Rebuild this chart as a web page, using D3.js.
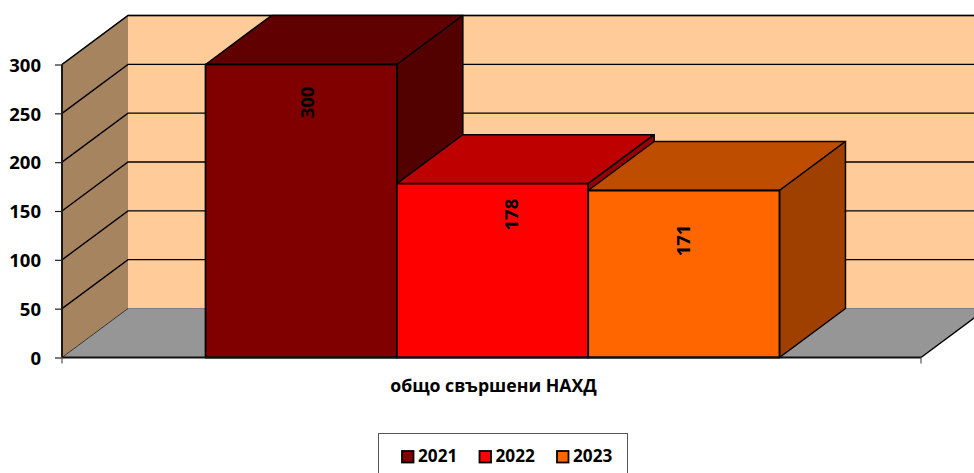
<!DOCTYPE html>
<html><head><meta charset="utf-8">
<script src="https://cdn.jsdelivr.net/npm/d3@7/dist/d3.min.js"></script>
<style>html,body{margin:0;padding:0;background:#fff;overflow:hidden}svg{display:block}
text{font-family:"Open Sans",sans-serif;font-weight:700;fill:#000}</style>
</head><body><svg id="c" width="974" height="473"></svg>
<script>
const category = ["общо свършени НАХД"];
const years = ["2021","2022","2023"];
const values = [300,178,171];
const yTicks = [0,50,100,150,200,250,300];
const frontColors = ["#800000","#ff0000","#ff6600"];
const topColors = ["#600000","#bf0000","#bf4d00"];
const sideColors = ["#530000","#990000","#a04000"];

const W=974,H=473;
const svg=d3.select("#c");
const x0=62,x1=921,yB=357.5,yT=64.5,dx=66,dy=-49;
const y=d3.scaleLinear().domain([0,300]).range([yB,yT]);
const xCat=d3.scaleBand().domain(category).range([x0,x1]);
const xBar=d3.scaleBand().domain(years).range([x0+1,x1+1]).paddingInner(0).paddingOuter(0.745);
const line=d3.line();
const poly=(pts,fill,stroke,sw)=>svg.append("path").attr("d",line(pts)+"Z").attr("fill",fill).attr("stroke",stroke||"none").attr("stroke-width",sw||0).attr("stroke-linejoin","round");

// walls and floor
poly([[x0+dx,yT+dy],[W+2,yT+dy],[W+2,yB+dy],[x0+dx,yB+dy]],"#ffcc99");
svg.append("line").attr("x1",x0+dx).attr("x2",W).attr("y1",yT+dy).attr("y2",yT+dy).attr("stroke","#808080").attr("stroke-width",1.5);
poly([[x0,yB],[x0+dx,yB+dy],[x0+dx,yT+dy],[x0,yT]],"#a68460");
svg.append("line").attr("x1",x0).attr("y1",yT).attr("x2",x0+dx).attr("y2",yT+dy).attr("stroke","#666").attr("stroke-width",1.5);
poly([[x0,yB],[x1,yB],[x1+dx,yB+dy],[x0+dx,yB+dy]],"#969696");
svg.append("line").attr("x1",x0+dx).attr("x2",W).attr("y1",yB+dy).attr("y2",yB+dy).attr("stroke","#808080").attr("stroke-width",1);
// grid
yTicks.slice(1).forEach(t=>{
  svg.append("path").attr("fill","none").attr("stroke","#000").attr("stroke-width",1.4)
    .attr("d",line([[x0,y(t)],[x0+dx,y(t)+dy],[W,y(t)+dy]]));
});
svg.append("line").attr("x1",x0).attr("y1",yB).attr("x2",x0+dx).attr("y2",yB+dy).attr("stroke","#333").attr("stroke-width",1);
svg.append("line").attr("x1",x1).attr("y1",yB).attr("x2",x1+dx).attr("y2",yB+dy).attr("stroke","#000").attr("stroke-width",1.5);
// bars
years.forEach((yr,i)=>{
  const l=xBar(yr),r=l+xBar.bandwidth(),t=y(values[i]),b=y(0);
  poly([[l,t],[r,t],[r+dx,t+dy],[l+dx,t+dy]],topColors[i],"#000",1.5);
  poly([[r,t],[r+dx,t+dy],[r+dx,b+dy],[r,b]],sideColors[i],"#000",1.5);
  poly([[l,t],[r,t],[r,b],[l,b]],frontColors[i],"#000",1.8);
});
// axes
svg.append("line").attr("x1",x0).attr("x2",x0).attr("y1",yT).attr("y2",yB).attr("stroke","#1a1a1a").attr("stroke-width",2);
svg.append("line").attr("x1",x0).attr("x2",x1).attr("y1",yB).attr("y2",yB).attr("stroke","#111").attr("stroke-width",1.8);
const yAxis=d3.axisLeft(y).tickValues(yTicks).tickSize(7).tickPadding(14).tickFormat(d3.format("d"));
const gy=svg.append("g").attr("transform",`translate(${x0},0)`).call(yAxis);
gy.select(".domain").remove();
gy.selectAll("line").attr("stroke","#222").attr("stroke-width",1.2);
gy.selectAll("text").attr("font-size",18.5).attr("dy","0.36em").style("font-family",'"Open Sans",sans-serif').attr("fill","#000");
[x0,x1].forEach(xx=>svg.append("line").attr("x1",xx).attr("x2",xx).attr("y1",yB).attr("y2",yB+6).attr("stroke","#555").attr("stroke-width",1.2));
// category label
svg.append("text").attr("x",xCat(category[0])+xCat.bandwidth()/2+2).attr("y",392).attr("text-anchor","middle").attr("font-size",17.7).text(category[0]);
// data labels
const lblOffset=[[5,38],[18,31],[-1,50]];
years.forEach((yr,i)=>{
  const cx=xBar(yr)+xBar.bandwidth()/2+lblOffset[i][0], cy=y(values[i])+lblOffset[i][1];
  svg.append("text").attr("transform",`translate(${cx},${cy}) rotate(-90)`).attr("text-anchor","middle").attr("dominant-baseline","central").attr("font-size",18.5).text(values[i]);
});
// legend
svg.append("rect").attr("x",378.5).attr("y",433.5).attr("width",249).attr("height",50).attr("fill","#fff").attr("stroke","#555").attr("stroke-width",1);
const legX=d3.scalePoint().domain(years).range([402,557]);
years.forEach((yr,i)=>{
  svg.append("rect").attr("x",legX(yr)).attr("y",451).attr("width",11.5).attr("height",11.5).attr("fill",frontColors[i]).attr("stroke","#000").attr("stroke-width",1.8);
  svg.append("text").attr("x",legX(yr)+16).attr("y",462).attr("font-size",17.2).text(yr);
});
</script></body></html>
